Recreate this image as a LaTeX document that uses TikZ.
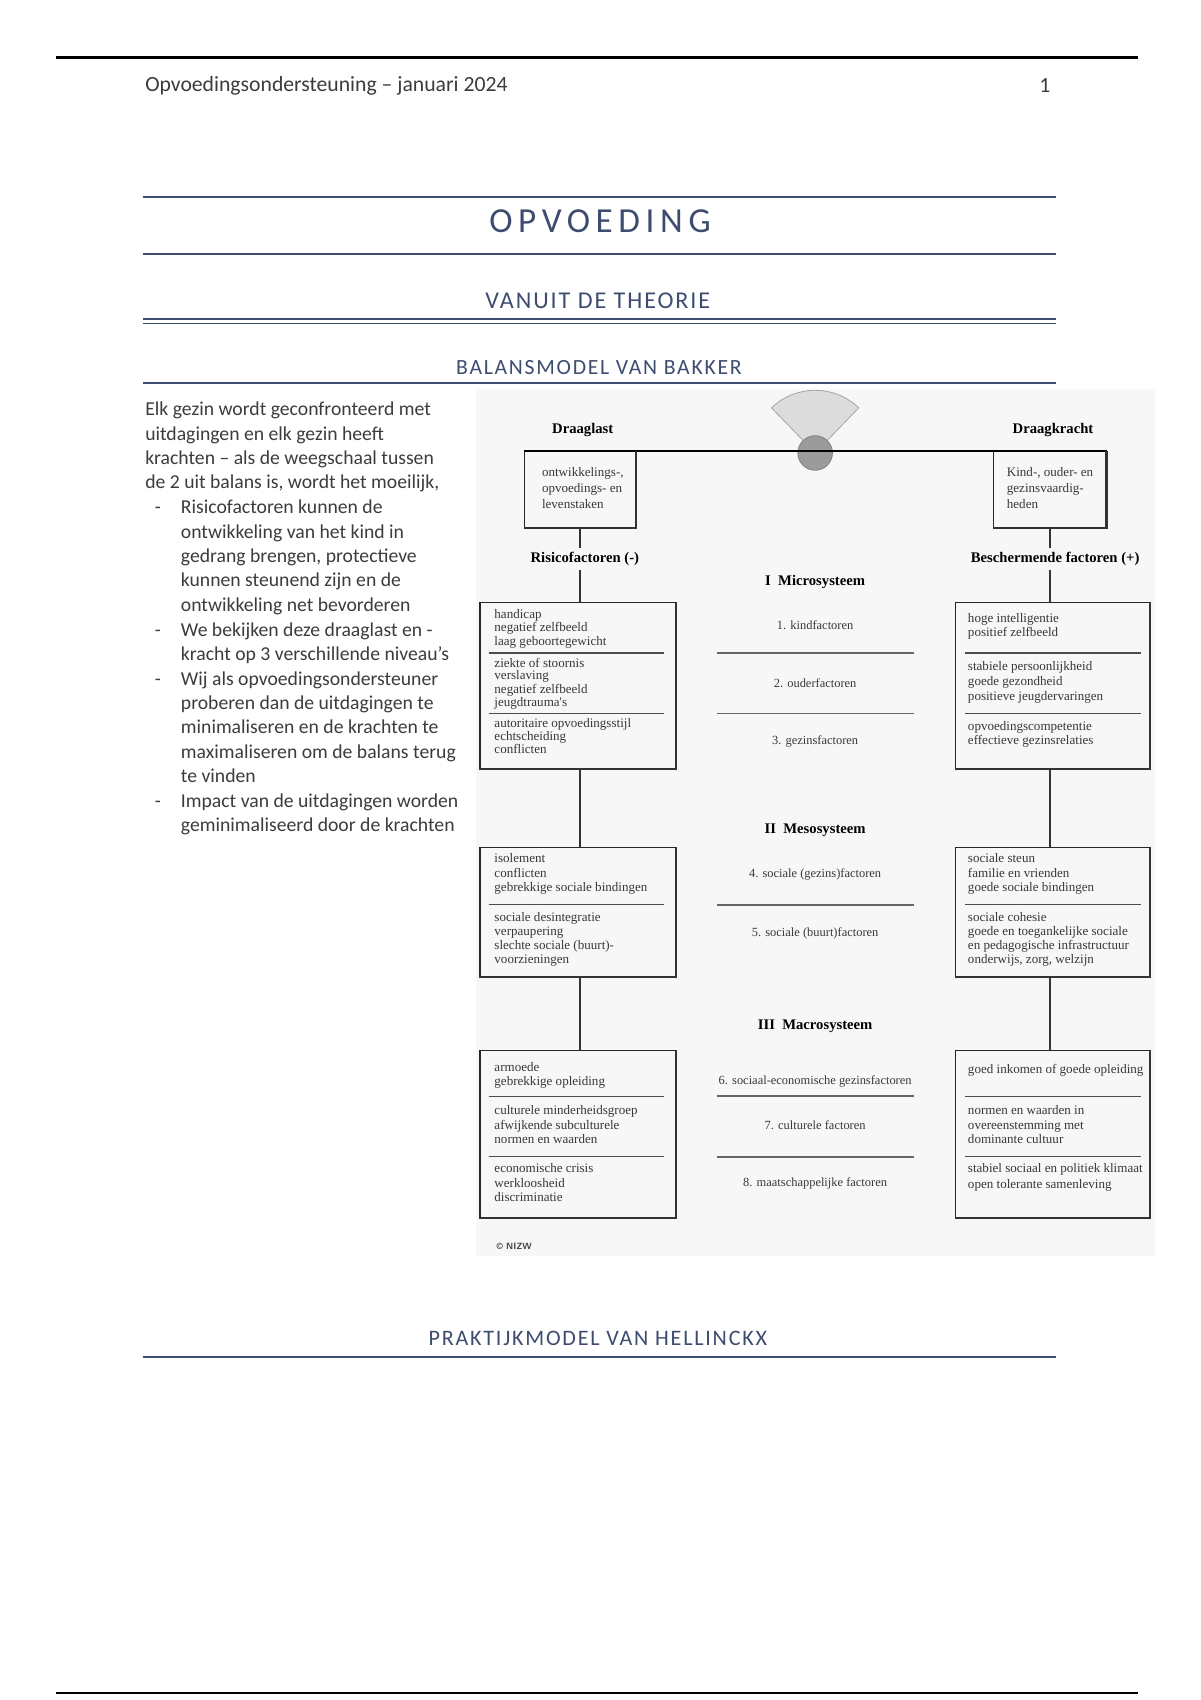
\documentclass[tikz,border=0pt]{standalone}
\usepackage{fontspec}
\setmainfont{Carlito}
\newfontfamily\dfont{Liberation Serif}
\newfontfamily\titlefont[LetterSpace=16]{Carlito}
\newfontfamily\subfont[LetterSpace=8]{Carlito}
\usetikzlibrary{fit}
\definecolor{hblue}{HTML}{3E4C6F}
\definecolor{bodyc}{HTML}{3C3C3C}
\definecolor{fanfill}{HTML}{DCDCDC}
\definecolor{pivfill}{HTML}{9B9B9B}
\definecolor{bgc}{HTML}{F7F7F7}
\newcommand\tlines[1]{\begin{tabular}[t]{@{}l@{}}#1\end{tabular}}
\begin{document}
\begin{tikzpicture}[x=0.18919mm,y=-0.18919mm,
  rulec/.style={draw=hblue,line width=1.2pt},
  body/.style={font=\fontsize{9.8}{12.15}\selectfont, text=bodyc, anchor=base west, inner sep=0pt},
  ttl/.style={text=hblue, inner sep=0pt, anchor=base},
  box/.style={draw=black!85, line width=0.6pt, inner sep=0pt},
  btxt/.style={font=\dfont\fontsize{6.5}{#1}\selectfont, text=black!78, anchor=base west, inner sep=0pt},
  btxt/.default=7,
  mtxt/.style={font=\dfont\fontsize{6.2}{7}\selectfont, text=black!78, inner sep=0pt},
  lvl/.style={font=\dfont\bfseries\fontsize{7.3}{8}\selectfont, inner sep=2pt},
  sepl/.style={draw=black!70, line width=0.6pt},
  msep/.style={draw=black!60, line width=0.8pt},
  conn/.style={draw=black!80, line width=0.9pt},
  shadowedge/.style={draw=black!80, line width=1.2pt}
]
\fill[white] (0,0) rectangle (1110,1572.5);
\useasboundingbox (0,0) rectangle (1110,1572.5);

% page rules and header
\draw[line width=1.3pt] (52,53) -- (1053,53);
\draw[line width=1.3pt] (52,1566) -- (1053,1566);
\node[font=\fontsize{10.8}{13}\selectfont, text=bodyc, anchor=base west, inner sep=0pt] (hdr) at (134,85) {Opvoedingsondersteuning – januari 2024};
\node[font=\fontsize{10.8}{13}\selectfont, text=bodyc, anchor=base east, inner sep=0pt] (pgno) at (972,86) {1};

% titles
\draw[rulec] (132,182) -- (977,182);
\node[ttl, font=\titlefont\fontsize{17.5}{20}\selectfont] (t1) at (555,215) {OPVOEDING};
\draw[rulec] (132,235) -- (977,235);
\node[ttl, font=\subfont\fontsize{12}{14}\selectfont] (t2) at (553,285) {VANUIT DE THEORIE};
\draw[draw=hblue, line width=0.7pt] (132,295) -- (977,295);
\draw[draw=hblue, line width=0.7pt] (132,299.5) -- (977,299.5);
\node[ttl, font=\subfont\fontsize{10.8}{13}\selectfont] (t3) at (554,346) {BALANSMODEL VAN BAKKER};
\draw[draw=hblue, line width=0.9pt] (132,354) -- (977,354);
\node[ttl, font=\subfont\fontsize{11}{13}\selectfont] (t4) at (553,1245) {PRAKTIJKMODEL VAN HELLINCKX};
\draw[draw=hblue, line width=0.9pt] (132,1255) -- (977,1255);

% body text
\node[body] (p0) at (134,384.5) {\tlines{Elk gezin wordt geconfronteerd met\\uitdagingen en elk gezin heeft\\krachten – als de weegschaal tussen\\de 2 uit balans is, wordt het moeilijk,}};
\node[body] (d1) at (143,475.1) {-};
\node[body] (b1) at (167,475.1) {\tlines{Risicofactoren kunnen de\\ontwikkeling van het kind in\\gedrang brengen, protectieve\\kunnen steunend zijn en de\\ontwikkeling net bevorderen}};
\node[body] (d2) at (143,588.4) {-};
\node[body] (b2) at (167,588.4) {\tlines{We bekijken deze draaglast en -\\kracht op 3 verschillende niveau's}};
\node[body] (d3) at (143,633.7) {-};
\node[body] (b3) at (167,633.7) {\tlines{Wij als opvoedingsondersteuner\\proberen dan de uitdagingen te\\minimaliseren en de krachten te\\maximaliseren om de balans terug\\te vinden}};
\node[body] (d4) at (143,746.9) {-};
\node[body] (b4) at (167,746.9) {\tlines{Impact van de uitdagingen worden\\geminimaliseerd door de krachten}};

% diagram background
\fill[bgc] (440,360) rectangle (1068,1162);

% scale: fan and pivot
\filldraw[fill=fanfill, draw=black!35, line width=0.4pt] (754,419) -- ++(-134:58) arc[start angle=-134, end angle=-46, radius=58] -- cycle;
\node[circle, fill=pivfill, draw=black!50, line width=0.4pt, minimum size=6.05mm, inner sep=0pt] (piv) at (754,419) {};

\node[lvl] (dlast) at (539,398) {Draaglast};
\node[lvl] (dkracht) at (974,398) {Draagkracht};

\node[box, fit={(485,418) (588,488)}] (dl) {};
\node[box, fit={(919,418) (1023,488)}] (dk) {};
\draw[line width=1.1pt] (dl.north west) -- (dk.north east);
\node[btxt=7.8] (dlt) at (501,441) {\tlines{ontwikkelings-,\\opvoedings- en\\levenstaken}};
\node[btxt=7.8] (dkt) at (931,441) {\tlines{Kind-, ouder- en\\gezinsvaardig-\\heden}};

\node[lvl] (rf) at (541,517) {Risicofactoren (-)};
\node[lvl] (bf) at (976,517) {Beschermende factoren (+)};

% big boxes
\node[box, fit={(444,557) (625,711)}] (lm) {};
\node[box, fit={(444,784) (625,903)}] (lmeso) {};
\node[box, fit={(444,972) (625,1126)}] (lmac) {};
\node[box, fit={(884,557) (1063,711)}] (rm) {};
\node[box, fit={(884,784) (1063,903)}] (rmeso) {};
\node[box, fit={(884,972) (1063,1126)}] (rmac) {};
\foreach \b in {dl,dk,lm,lmeso,lmac,rm,rmeso,rmac}
  \draw[shadowedge] (\b.north east) -- (\b.south east) -- (\b.south west);

% separators
\foreach \yy in {604,660,837,1014,1070} {
  \draw[sepl] (452,\yy) -- (614,\yy);
  \draw[sepl] (893,\yy) -- (1055,\yy);
  \draw[msep] (663,\yy) -- (845,\yy);
}

% connectors
\draw[conn] (dl.south) -- (dl.south |- rf.north);
\draw[conn] (dl.south |- rf.south) -- (dl.south |- lm.north);
\draw[conn] (dl.south |- lm.south) -- (dl.south |- lmeso.north);
\draw[conn] (dl.south |- lmeso.south) -- (dl.south |- lmac.north);
\draw[conn] (dk.south) -- (dk.south |- bf.north);
\draw[conn] (dk.south |- bf.south) -- (dk.south |- rm.north);
\draw[conn] (dk.south |- rm.south) -- (dk.south |- rmeso.north);
\draw[conn] (dk.south |- rmeso.south) -- (dk.south |- rmac.north);

% left box texts
\node[btxt=6.7] (l1) at (457,572) {\tlines{handicap\\negatief zelfbeeld\\laag geboortegewicht}};
\node[btxt=6.45] (l2) at (457,617) {\tlines{ziekte of stoornis\\verslaving\\negatief zelfbeeld\\jeugdtrauma's}};
\node[btxt=6.45] (l3) at (457,673) {\tlines{autoritaire opvoedingsstijl\\echtscheiding\\conflicten}};
\node[btxt=7.2] (l4) at (457,798) {\tlines{isolement\\conflicten\\gebrekkige sociale bindingen}};
\node[btxt=7.0] (l5) at (457,852) {\tlines{sociale desintegratie\\verpaupering\\slechte sociale (buurt)-\\voorzieningen}};
\node[btxt=7.0] (l6) at (457,991) {\tlines{armoede\\gebrekkige opleiding}};
\node[btxt=7.2] (l7) at (457,1031) {\tlines{culturele minderheidsgroep\\afwijkende subculturele\\normen en waarden}};
\node[btxt=7.2] (l8) at (457,1085) {\tlines{economische crisis\\werkloosheid\\discriminatie}};

% right box texts
\node[btxt=7.0] (r1) at (895,576) {\tlines{hoge intelligentie\\positief zelfbeeld}};
\node[btxt=7.5] (r2) at (895,620) {\tlines{stabiele persoonlijkheid\\goede gezondheid\\positieve jeugdervaringen}};
\node[btxt=7.0] (r3) at (895,676) {\tlines{opvoedingscompetentie\\effectieve gezinsrelaties}};
\node[btxt=7.2] (r4) at (895,798) {\tlines{sociale steun\\familie en vrienden\\goede sociale bindingen}};
\node[btxt=7.0] (r5) at (895,852) {\tlines{sociale cohesie\\goede en toegankelijke sociale\\en pedagogische infrastructuur\\onderwijs, zorg, welzijn}};
\node[btxt] (r6) at (895,993) {goed inkomen of goede opleiding};
\node[btxt=7.2] (r7) at (895,1031) {\tlines{normen en waarden in\\overeenstemming met\\dominante cultuur}};
\node[btxt=7.5] (r8) at (895,1085) {\tlines{stabiel sociaal en politiek klimaat\\open tolerante samenleving}};

% middle column
\node[lvl] (lv1) at (754,538) {I\enspace Microsysteem};
\node[mtxt] (m1) at (754,578) {1. kindfactoren};
\node[mtxt] (m2) at (754,632) {2. ouderfactoren};
\node[mtxt] (m3) at (754,686) {3. gezinsfactoren};
\node[lvl] (lv2) at (754,768) {II\enspace Mesosysteem};
\node[mtxt] (m4) at (754,809) {4. sociale (gezins)factoren};
\node[mtxt] (m5) at (754,863) {5. sociale (buurt)factoren};
\node[lvl] (lv3) at (754,949) {III\enspace Macrosysteem};
\node[mtxt] (m6) at (754,1000) {6. sociaal-economische gezinsfactoren};
\node[mtxt] (m7) at (754,1041) {7. culturele factoren};
\node[mtxt] (m8) at (754,1095) {8. maatschappelijke factoren};

\node[font=\sffamily\bfseries\fontsize{4.5}{5}\selectfont, text=black!75, anchor=west, inner sep=0pt] (nizw) at (459,1153) {© NIZW};
\end{tikzpicture}
\end{document}
